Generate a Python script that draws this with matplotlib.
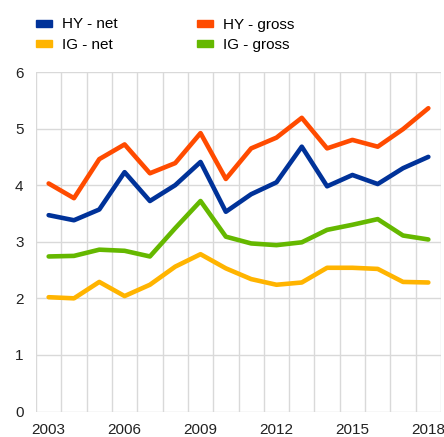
import numpy as np
import matplotlib.pyplot as plt

plt.rcParams['font.family'] = ['Liberation Sans', 'DejaVu Sans']

years = list(range(2003, 2019))
hy_net = [3.47, 3.38, 3.57, 4.23, 3.72, 4.00, 4.41, 3.53, 3.84, 4.05, 4.68, 3.98, 4.18, 4.02, 4.30, 4.50]
hy_gross = [4.03, 3.77, 4.46, 4.72, 4.21, 4.39, 4.92, 4.11, 4.65, 4.84, 5.19, 4.65, 4.80, 4.68, 4.99, 5.36]
ig_net = [2.02, 2.00, 2.29, 2.04, 2.24, 2.56, 2.78, 2.53, 2.34, 2.24, 2.28, 2.54, 2.54, 2.52, 2.29, 2.28]
ig_gross = [2.74, 2.75, 2.86, 2.84, 2.74, 3.24, 3.72, 3.09, 2.97, 2.94, 2.99, 3.21, 3.30, 3.40, 3.11, 3.04]

series = [
    ("HY - net", hy_net, "#003299"),
    ("IG - net", ig_net, "#FFB400"),
    ("HY - gross", hy_gross, "#FF4B00"),
    ("IG - gross", ig_gross, "#65B800"),
]

fig = plt.figure(figsize=(4.44, 4.37), dpi=100)
ax = fig.add_axes([36 / 444, 1 - 411.5 / 437, 405 / 444, 339.5 / 437])

x = np.arange(len(years))
handles = []
for label, vals, col in series:
    ax.plot(x, vals, color=col, lw=3.3, solid_capstyle='round', solid_joinstyle='round', zorder=3)
    handles.append(plt.Rectangle((0, 0), 1, 1, color=col, label=label))

ax.set_xlim(-0.5, len(years) - 0.5)
ax.set_ylim(0, 6)
ax.set_yticks(range(0, 7))
ax.set_xticks(x[::3])
ax.set_xticklabels([str(y) for y in years[::3]])
ax.set_xticks(np.arange(-0.5, len(years)), minor=True)
ax.grid(True, which='minor', axis='x', color='#d9d9d9', lw=1)
ax.grid(True, which='major', axis='y', color='#d9d9d9', lw=1)
ax.tick_params(which='both', length=0, labelsize=11, colors='#222222')
ax.tick_params(axis='x', pad=8)
ax.tick_params(axis='y', pad=9)
for s in ax.spines.values():
    s.set_visible(False)

fig.legend(handles=handles, ncol=2, loc='upper left', bbox_to_anchor=(36 / 444, 1 - 17.5 / 437),
           frameon=False, fontsize=11, handlelength=1.05, handleheight=0.33,
           columnspacing=5.2, labelspacing=0.42, handletextpad=0.65,
           borderpad=0, borderaxespad=0)

fig.savefig("out.png", dpi=100)
